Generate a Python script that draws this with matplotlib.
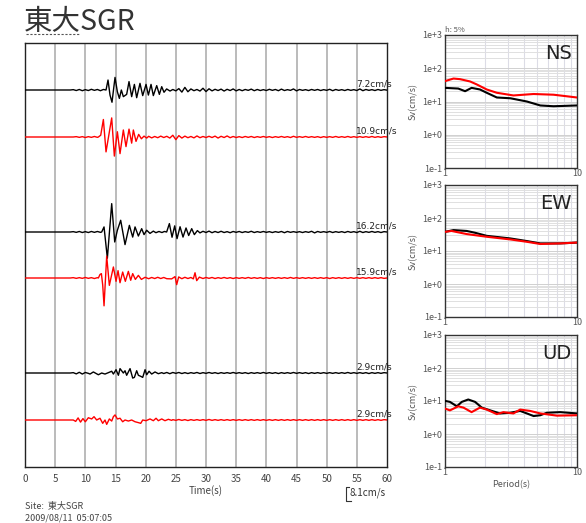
import numpy as np
import matplotlib
matplotlib.use("Agg")
import matplotlib.pyplot as plt
from matplotlib.ticker import FixedLocator, NullFormatter, LogLocator

plt.rcParams['font.family'] = ['Noto Sans CJK JP', 'DejaVu Sans']

# ---------------- data ----------------
title = "東大SGR"
site_text = "Site:  東大SGR"
date_text = "2009/08/11  05:07:05"
scale_value = 8.1
time_ticks = [0, 5, 10, 15, 20, 25, 30, 35, 40, 45, 50, 55, 60]
peak_labels = ["7.2cm/s", "10.9cm/s", "16.2cm/s", "15.9cm/s", "2.9cm/s", "2.9cm/s"]
trace_colors = ["black", "red", "black", "red", "black", "red"]

STEP = 0.5
# NS black (cm/s)
ns_b_pre = [0, 0, 0, 0, 0, 0, 0, 0, 0, 0, 0, 0, 0, 0, 0, 0, 0.2, -0.3, 0.3, -0.4, 0.2, -0.3, 0.4, -0.2, 0.3, -0.4, 0.3]
ns_b_evt_t = [13.43, 13.76, 14.09, 14.42, 14.92, 15.31, 15.64, 15.97, 16.3, 16.85, 17.24, 17.68, 18.13, 18.51,
              19.06, 19.51, 20.06, 20.45, 20.89, 21.27, 21.83, 22.27, 22.66, 23.04, 23.48, 24.04]
ns_b_evt_v = [0, 5.7, -2.9, -7.0, 7.2, -1.0, -4.8, 0, -3.8, -2.5, 4.8, -3.8, 3.2, -4.4,
              3.8, -3.2, 3.2, -2.9, 3.2, -3.2, 2.5, -2.5, 1.9, -1.3, 0.6, -0.6]
ns_b_tail_t0 = 24.5
ns_b_tail = [0.3, -0.5, 0.8, -1.2, 1.5, -1.0, 0.6,
             -0.4, 0.3, -0.6, 1.0, -0.9, 0.7, -0.5, 0.4,
             -0.3, 0.5, -0.6, 0.4, -0.3, 0.6, -0.5, 0.3,
             -0.4, 0.3, -0.2, 0.5, -0.4, 0.3, -0.3, 0.2,
             -0.3, 0.4, -0.2, 0.3, -0.4, 0.5, -0.3, 0.2,
             -0.2, 0.6, -0.5, 0.3, -0.2, 0.2, -0.3, 0.3,
             -0.2, 0.3, -0.3, 0.2, -0.2, 0.4, -0.4, 0.3,
             -0.2, 0.2, -0.3, 0.3, -0.2, 0.2, -0.3, 0.6,
             -0.4, 0.3, -0.2, 0.2, -0.3, 0.3, -0.2, 0.2, -0.1]

# NS red
ns_r_pre = [0, 0, 0, 0, 0, 0, 0, 0, 0, 0, 0, 0, 0, 0, 0, 0, 0, 0.2, -0.2, 0.2, -0.3, 0.2, -0.2, 0.3, -0.2]
ns_r_evt_t = [12.16, 12.55, 12.99, 13.43, 14.37, 14.81, 15.31, 15.75, 16.3, 16.74, 17.24, 17.68, 17.96, 18.4,
              18.84, 19.29, 19.73, 20.17]
ns_r_evt_v = [0, 1.0, 10.0, -8.5, 10.9, -10.9, 3.0, -9.5, 4.0, -5.5, 4.5, -3.5, 4.0, -2.5,
              1.5, -1.0, 0.5, -0.6]
ns_r_tail_t0 = 20.5
ns_r_tail = [0.4, -0.5, 0.3, -0.4, 0.5, -0.3,
             0.4, -0.6, 1.0, -1.5, 0.8, -0.6, 0.5, -0.4,
             0.3, -0.5, 0.6, -0.4, 0.3, -0.3, 0.4, -0.3,
             0.5, -0.6, 0.4, -0.3, 0.6, -0.4, 0.3, -0.3,
             0.2, -0.3, 0.3, -0.2, 0.3, -0.3, 0.2, -0.2,
             0.3, -0.2, 0.2, -0.3, 0.2, -0.2, 0.3, -0.2,
             0.2, -0.3, 0.4, -0.2, 0.2, -0.2, 0.3, -0.2,
             0.2, -0.2, 0.2, -0.3, 0.2, -0.2, 0.2, -0.2,
             0.3, -0.2, 0.2, -0.2, 0.3, -0.2, 0.2, -0.2,
             0.2, -0.2, 0.2, -0.2, 0.3, -0.2, 0.2, -0.2, 0.2, 0.0]

# EW black
ew_b_pre = [0, 0, 0, 0, 0, 0, 0, 0, 0, 0, 0, 0, 0, 0, 0, 0, 0.2, -0.2, 0.3, -0.3, 0.2, -0.3, 0.3, -0.2, 0.3, -0.2]
ew_b_evt_t = [12.71, 13.1, 13.65, 14.37, 14.87, 15.31, 15.86, 16.58, 17.3, 17.85, 18.24, 18.79, 19.34, 19.73,
              20.17, 20.72, 21.27, 21.7, 22.2, 22.7, 23.1, 23.48, 23.93, 24.37, 24.81, 25.2, 25.7, 26.19,
              26.69, 27.13, 27.63, 28.07, 28.57]
ew_b_evt_v = [0, 2.9, -15.0, 16.2, -5.7, 1.0, 6.7, -7.2, 3.8, -2.9, 2.9, -2.3, 1.9, -1.5,
              1.0, -0.8, 0.5, -0.4, 0.3, -0.3, 0.3, 0, 4.8, -3.0, 3.5, -3.8, 3.0, -2.9,
              2.3, -2.0, 1.9, -1.5, 0.8]
ew_b_tail_t0 = 29.0
ew_b_tail = [-0.5, 0.4, -0.3, 0.5, -0.4, 0.3, -0.3, 0.4,
             -0.3, 0.2, -0.4, 0.3, -0.2, 0.3, -0.3, 0.2,
             -0.2, 0.4, -0.3, 0.2, -0.2, 0.3, -0.2, 0.2,
             -0.3, 0.2, -0.2, 0.3, -0.4, 0.3, -0.2, 0.2,
             -0.2, 0.2, -0.3, 0.2, -0.2, 0.4, -0.5, 0.3,
             -0.2, 0.2, -0.2, 0.3, -0.3, 0.2, -0.2, 0.2,
             -0.3, 0.3, -0.2, 0.2, -0.3, 0.4, -0.3, 0.2,
             -0.2, 0.3, -0.2, 0.2, -0.3, 0.2, 0.0]

# EW red
ew_r_pre = [0, 0, 0, 0, 0, 0, 0, 0, 0, 0, 0, 0, 0, 0, 0, 0, 0.2, -0.2, 0.2, -0.2, 0.3, -0.2, 0.2, -0.3, 0.2]
ew_r_evt_t = [12.16, 12.43, 12.66, 12.88, 13.1, 13.54, 13.98, 14.65, 15.09, 15.42, 15.75, 16.19, 16.63, 17.13,
              17.52, 17.85, 18.29, 18.79, 19.29, 19.9, 20.5, 21.0, 21.5, 22.0, 22.5, 23.0, 23.5, 24.31,
              24.87, 25.14, 25.47, 26.0, 26.5, 27.0, 27.5, 27.9, 28.18, 28.46, 28.9]
ew_r_evt_v = [0, 2.0, 2.5, -4.0, -15.9, 12.5, -4.2, 6.3, -1.9, 4.2, -2.7, 3.4, -1.9, 3.8,
              -1.3, 2.5, -0.8, 1.5, -0.8, 0.4, -0.4, 0.3, -0.3, 0.4, -0.3, 0.3, -0.4, -0.5,
              0.8, -3.8, 0.6, -0.4, 0.4, -0.3, 0.3, -0.5, 3.0, -1.5, 0.5]
ew_r_tail_t0 = 29.5
ew_r_tail = [-0.3, 0.3, -0.2, 0.3, -0.3, 0.2, -0.2, 0.3,
             -0.2, 0.2, -0.3, 0.2, -0.2, 0.2, -0.2, 0.3,
             -0.2, 0.2, -0.2, 0.2, -0.3, 0.2, -0.2, 0.2,
             -0.2, 0.2, -0.2, 0.2, -0.2, 0.3, -0.2, 0.2,
             -0.2, 0.2, -0.2, 0.2, -0.2, 0.2, -0.2, 0.2,
             -0.2, 0.2, -0.3, 0.2, -0.2, 0.2, -0.2, 0.2,
             -0.2, 0.2, -0.2, 0.2, -0.2, 0.2, -0.2, 0.2,
             -0.2, 0.2, -0.2, 0.2, -0.2, 0.0]

# UD black
ud_b_pre = [0, 0, 0, 0, 0, 0, 0, 0, 0, 0, 0, 0, 0, 0, 0, 0, 0.2, -0.5, 0.4, -0.6, 0.3, -0.2]
ud_b_evt_t = [10.78, 11.33, 12.16, 12.71, 13.26, 13.82, 14.37, 14.65, 15.09, 15.48, 15.75, 16.3, 16.58, 16.85,
              17.41, 17.85, 18.13, 18.51, 18.79, 19.18, 19.51, 19.9, 20.17, 20.56, 21.0, 21.55, 22.1, 22.66]
ud_b_evt_v = [-0.6, 0.6, -1.0, 0, -0.6, 0.2, 1.0, -0.6, 1.9, -1.3, 2.5, 0, 1.3, -1.3,
              2.5, -2.9, -2.5, 1.3, -1.3, -1.9, -2.5, 1.9, -1.0, 1.0, -0.6, 0.6, -0.4, 0.2]
ud_b_tail_t0 = 23.0
ud_b_tail = [-0.3, 0.3, -0.4, 0.3, -0.2, 0.3, -0.3, 0.2,
             -0.3, 0.2, -0.2, 0.3, -0.3, 0.2, -0.2, 0.3,
             -0.2, 0.2, -0.3, 0.2, -0.2, 0.2, -0.2, 0.3,
             -0.2, 0.2, -0.2, 0.2, -0.3, 0.2, -0.2, 0.2,
             -0.2, 0.3, -0.2, 0.2, -0.2, 0.2, -0.3, 0.2,
             -0.2, 0.2, -0.2, 0.3, -0.2, 0.2, -0.2, 0.2,
             -0.3, 0.2, -0.2, 0.2, -0.2, 0.2, -0.2, 0.2,
             -0.2, 0.2, -0.2, 0.2, -0.2, 0.3, -0.2, 0.2,
             -0.2, 0.2, -0.2, 0.2, -0.3, 0.2, -0.2, 0.2, -0.2, 0.2, 0.0]

# UD red
ud_r_pre = [0, 0, 0, 0, 0, 0, 0, 0, 0, 0, 0, 0, 0, 0, 0, 0]
ud_r_evt_t = [8.0, 8.4, 8.8, 9.2, 9.6, 10.0, 10.5, 11.05, 11.44, 11.88, 12.43, 12.88, 13.26, 13.54,
              13.98, 14.37, 14.65, 14.92, 15.31, 15.75, 16.19, 16.58, 17.13, 17.68, 18.24, 18.79, 19.18, 19.51,
              20.06, 20.72, 21.27, 21.72, 22.1, 22.66, 23.2, 23.76, 24.31]
ud_r_evt_v = [0, -0.8, 1.2, -1.2, 0.8, -1.0, 1.3, 0.6, 1.9, 0, 1.0, -1.9, 0, -2.5,
              0.6, -0.6, 1.9, 2.9, 0.6, 1.0, -1.0, 0, -0.6, 0, -1.0, -1.5, -1.9, 0,
              -0.4, 0.6, -0.4, 1.0, -0.4, 0.6, -0.4, 0.4, -0.2]
ud_r_tail_t0 = 24.5
ud_r_tail = [0.2, -0.2, 0.3, -0.2, 0.2, -0.3, 0.2,
             -0.2, 0.2, -0.2, 0.2, -0.2, 0.3, -0.2, 0.2,
             -0.2, 0.2, -0.2, 0.2, -0.2, 0.2, -0.2, 0.2,
             -0.2, 0.2, -0.2, 0.2, -0.2, 0.2, -0.2, 0.2,
             -0.2, 0.2, -0.2, 0.2, -0.2, 0.2, -0.2, 0.2,
             -0.2, 0.2, -0.2, 0.2, -0.2, 0.2, -0.2, 0.2,
             -0.2, 0.2, -0.2, 0.2, -0.2, 0.2, -0.2, 0.2,
             -0.2, 0.2, -0.2, 0.2, -0.2, 0.2, -0.2, 0.2,
             -0.2, 0.2, -0.2, 0.2, -0.2, 0.2, -0.2, 0.2, 0.0]

# response spectra (period s, Sv cm/s)
ns_sp_b_p = [1.0, 1.26, 1.42, 1.59, 1.84, 2.07, 2.47, 3.13, 4.17, 5.27, 6.64, 10.0]
ns_sp_b_v = [25.7, 24.5, 20.4, 25.7, 23.0, 18.3, 13.2, 12.5, 10.0, 7.6, 7.2, 7.6]
ns_sp_r_p = [1.0, 1.16, 1.30, 1.55, 1.74, 2.07, 2.47, 3.30, 4.69, 6.64, 10.0]
ns_sp_r_v = [41, 49, 47, 40, 32.6, 23, 18.3, 15.2, 16.8, 16, 13.2]
ew_sp_b_p = [1.0, 1.16, 1.46, 1.69, 2.07, 3.13, 4.17, 5.27, 7.5, 10.0]
ew_sp_b_v = [38, 43, 40.5, 35.7, 28.8, 24, 20, 17, 17, 18]
ew_sp_r_p = [1.0, 1.12, 1.46, 2.07, 3.13, 4.17, 5.27, 7.5, 10.0]
ew_sp_r_v = [38, 40.5, 32.6, 27, 22.4, 19, 16.3, 17, 18]
ud_sp_b_p = [1.0, 1.09, 1.23, 1.34, 1.50, 1.69, 1.90, 2.20, 2.61, 3.11, 3.71, 4.17, 4.69, 5.27, 5.91, 7.47, 10.0]
ud_sp_b_v = [10.1, 9.4, 6.9, 9.4, 11.1, 9.4, 6.3, 5.2, 4.2, 4.4, 5.0, 4.2, 3.5, 3.7, 4.4, 4.6, 4.2]
ud_sp_r_p = [1.0, 1.09, 1.26, 1.38, 1.59, 1.84, 2.07, 2.47, 2.77, 3.30, 3.71, 4.42, 5.27, 7.05, 10.0]
ud_sp_r_v = [5.9, 5.2, 6.9, 6.3, 4.6, 6.3, 5.5, 4.0, 4.6, 4.2, 5.5, 5.0, 4.2, 3.6, 3.7]
spec_names = ["NS", "EW", "UD"]
spec_yticks = [0.1, 1, 10, 100, 1000]
spec_ytick_labels = ["1e-1", "1e+0", "1e+1", "1e+2", "1e+3"]

# ---------------- figure ----------------
W, H = 586, 523
fig = plt.figure(figsize=(W / 100, H / 100), dpi=100)

def fx(px):
    return px / W

def fy(py):
    return 1 - py / H

# main axes: pixel box 25..387 x 43..467
ax = fig.add_axes([fx(25), fy(467), fx(387) - fx(25), fy(43) - fy(467)])
PX_PER_UNIT = 1.75
ax_h_px = 467 - 43
ax.set_xlim(0, 60)
ax.set_ylim(-ax_h_px / PX_PER_UNIT, 0)
baselines_px = [90, 137, 232, 278, 373, 420]
baselines = [-(b - 43) / PX_PER_UNIT for b in baselines_px]

for t in time_ticks[1:-1]:
    ax.axvline(t, color='#a8a8a8', lw=1.1, zorder=1)

def build(pre, et, ev, t0, tail):
    pre_t = list(np.arange(len(pre)) * STEP)
    tail_t = list(t0 + np.arange(len(tail)) * STEP)
    return np.array(pre_t + et + tail_t), np.array(list(pre) + ev + list(tail))

traces = [
    build(ns_b_pre, ns_b_evt_t, ns_b_evt_v, ns_b_tail_t0, ns_b_tail),
    build(ns_r_pre, ns_r_evt_t, ns_r_evt_v, ns_r_tail_t0, ns_r_tail),
    build(ew_b_pre, ew_b_evt_t, ew_b_evt_v, ew_b_tail_t0, ew_b_tail),
    build(ew_r_pre, ew_r_evt_t, ew_r_evt_v, ew_r_tail_t0, ew_r_tail),
    build(ud_b_pre, ud_b_evt_t, ud_b_evt_v, ud_b_tail_t0, ud_b_tail),
    build(ud_r_pre, ud_r_evt_t, ud_r_evt_v, ud_r_tail_t0, ud_r_tail),
]
for (tt, vv), base, col, lab in zip(traces, baselines, trace_colors, peak_labels):
    ax.plot(tt, vv + base, color=col, lw=1.0, zorder=3)
    ax.text(54.9, base + 0.6, lab, fontsize=6.5, color='#222222', ha='left', va='bottom',
            family=['DejaVu Sans'], zorder=4)

ax.set_xticks(time_ticks)
ax.set_xticklabels([str(t) for t in time_ticks], fontsize=7, color='#444444')
ax.tick_params(axis='x', length=0, pad=5)
ax.set_yticks([])
for s in ax.spines.values():
    s.set_color('#222222')
    s.set_linewidth(1.0)
ax.set_xlabel("Time(s)", fontsize=7, color='#444444', labelpad=1)

# scale bar (bracket height = scale_value in data units)
sb_x0 = (346 - 25) / ((387 - 25) / 60)
sb_top = -(487 - 43) / PX_PER_UNIT
sb_bot = sb_top - scale_value
ax.plot([sb_x0 + 0.5, sb_x0, sb_x0, sb_x0 + 0.9], [sb_top, sb_top, sb_bot, sb_bot],
        color='#333333', lw=0.8, clip_on=False)
ax.text(sb_x0 + 0.5, (sb_top + sb_bot) / 2 + 0.5, f"{scale_value}cm/s", fontsize=7, color='#333333',
        ha='left', va='center', clip_on=False)

# title and footer
fig.text(fx(24), fy(22), title, fontsize=20.5, color='#333333', ha='left', va='center',
         family=['Noto Sans CJK JP', 'DejaVu Sans'])
fig.lines.append(plt.Line2D([fx(26), fx(80)], [fy(34), fy(34)], color='#555555', lw=0.8,
                            ls=(0, (2, 1.5)), transform=fig.transFigure))
fig.text(fx(25), fy(507), site_text, fontsize=6.5, color='#444444', ha='left', va='center')
fig.text(fx(25), fy(518), date_text, fontsize=6.5, color='#444444', ha='left', va='center')

# spectra
spec_boxes = [(35, 168), (185, 317), (335, 467)]
spec_data = [
    (ns_sp_b_p, ns_sp_b_v, ns_sp_r_p, ns_sp_r_v),
    (ew_sp_b_p, ew_sp_b_v, ew_sp_r_p, ew_sp_r_v),
    (ud_sp_b_p, ud_sp_b_v, ud_sp_r_p, ud_sp_r_v),
]
for i, ((top, bot), (bp, bv, rp, rv), name) in enumerate(zip(spec_boxes, spec_data, spec_names)):
    sa = fig.add_axes([fx(445), fy(bot), fx(577) - fx(445), fy(top) - fy(bot)])
    sa.set_xscale('log')
    sa.set_yscale('log')
    sa.set_xlim(1, 10)
    sa.set_ylim(0.1, 1000)
    sa.xaxis.set_minor_locator(FixedLocator([2, 3, 4, 5, 6, 7, 8, 9]))
    sa.xaxis.set_minor_formatter(NullFormatter())
    sa.yaxis.set_minor_locator(LogLocator(base=10, subs=np.arange(2, 10)))
    sa.yaxis.set_minor_formatter(NullFormatter())
    sa.grid(which='minor', axis='x', color='#dcdce6', lw=0.8)
    sa.grid(which='minor', axis='y', color='#e0e0e0', lw=0.7)
    sa.grid(which='major', axis='y', color='#d0d0d0', lw=0.7)
    sa.plot(bp, bv, color='black', lw=1.5, zorder=3)
    sa.plot(rp, rv, color='red', lw=1.5, zorder=4)
    sa.set_yticks(spec_yticks)
    sa.set_yticklabels(spec_ytick_labels, fontsize=6.5, color='#555555')
    sa.set_xticks([1, 10])
    sa.set_xticklabels(["1", "10"], fontsize=6.5, color='#555555')
    sa.tick_params(which='both', length=0, pad=2)
    sa.tick_params(axis='x', pad=1)
    for s in sa.spines.values():
        s.set_color('#333333')
        s.set_linewidth(1.0)
    sa.set_ylabel("Sv(cm/s)", fontsize=6.5, color='#555555', labelpad=3)
    sa.text(0.96, 0.93, name, transform=sa.transAxes, fontsize=14, color='#222222',
            ha='right', va='top', family=['DejaVu Sans'])
    if i == 0:
        sa.text(0.0, 1.005, "h: 5%", transform=sa.transAxes, fontsize=5.5, color='#555555',
                ha='left', va='bottom')
    if i == 2:
        sa.set_xlabel("Period(s)", fontsize=6.5, color='#555555', labelpad=2)

fig.savefig("out.png", dpi=100)
